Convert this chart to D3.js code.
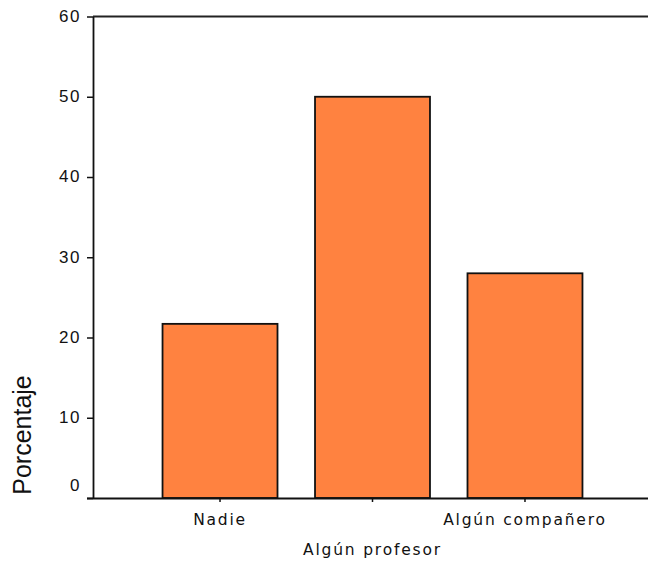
<!DOCTYPE html>
<html>
<head>
<meta charset="utf-8">
<script src="https://cdn.jsdelivr.net/npm/d3@7"></script>
<style>
  html, body { margin: 0; padding: 0; background: #fff; }
  svg { display: block; }
</style>
</head>
<body>
<svg id="chart" width="648" height="570"></svg>
<script>
const categories = ["Nadie", "Algún profesor", "Algún compañero"];
const values = [21.7, 50.0, 28.0];
const yTicks = [0, 10, 20, 30, 40, 50, 60];
const yTitle = "Porcentaje";

(function () {
const svg = d3.select("#chart");
const W = 648, H = 570;
const mLeft = 93, mTop = 16.5, mBottom = 498, mRight = 652;

const y = d3.scaleLinear().domain([0, 60]).range([mBottom, mTop]);
const x = d3.scaleBand().domain(categories).range([mLeft, mRight])
  .paddingInner(0.246).paddingOuter(0.456);

// bars
svg.append("g").selectAll("rect").data(values).join("rect")
  .attr("x", (d, i) => x(categories[i]))
  .attr("y", d => y(d))
  .attr("width", x.bandwidth())
  .attr("height", d => y(0) - y(d))
  .attr("fill", "#FF8240")
  .attr("stroke", "#111")
  .attr("stroke-width", 1.8);

// top frame line
svg.append("line")
  .attr("x1", mLeft).attr("x2", W)
  .attr("y1", mTop).attr("y2", mTop)
  .attr("stroke", "#222").attr("stroke-width", 1.8);

// Y axis
const yAxis = svg.append("g")
  .attr("transform", `translate(${mLeft},0)`)
  .call(d3.axisLeft(y).tickValues(yTicks).tickSize(6).tickPadding(6).tickSizeOuter(0));
yAxis.select(".domain").attr("stroke", "#111").attr("stroke-width", 1.8);
yAxis.selectAll(".tick line").attr("stroke", "#111").attr("stroke-width", 1.5);
yAxis.selectAll(".tick text")
  .attr("font-family", "'Liberation Sans', Arial, sans-serif")
  .attr("font-size", 17)
  .attr("letter-spacing", "1.5px")
  .attr("fill", "#111")
  .attr("dy", "0.34em")
  .attr("y", d => d === 0 ? -13 : -1);

// X axis
const xAxis = svg.append("g")
  .attr("transform", `translate(0,${mBottom})`)
  .call(d3.axisBottom(x).tickSize(4).tickSizeOuter(0));
xAxis.select(".domain").attr("d", `M${mLeft - 6},0.5H${W}`)
  .attr("stroke", "#111").attr("stroke-width", 1.8);
xAxis.selectAll(".tick line").attr("stroke", "#111").attr("stroke-width", 1.5);
xAxis.selectAll(".tick text")
  .attr("font-family", "'DejaVu Sans', Verdana, sans-serif")
  .attr("font-size", 15.5)
  .attr("letter-spacing", "1.8px")
  .attr("fill", "#111")
  .attr("dy", null)
  .attr("y", (d, i) => i % 2 === 0 ? 27 : 57);

// Y title
svg.append("text")
  .attr("transform", `translate(31,435) rotate(-90)`)
  .attr("text-anchor", "middle")
  .attr("font-family", "'Liberation Sans', Arial, sans-serif")
  .attr("font-size", 25)
  .attr("fill", "#111")
  .text(yTitle);
})();
</script>
</body>
</html>
